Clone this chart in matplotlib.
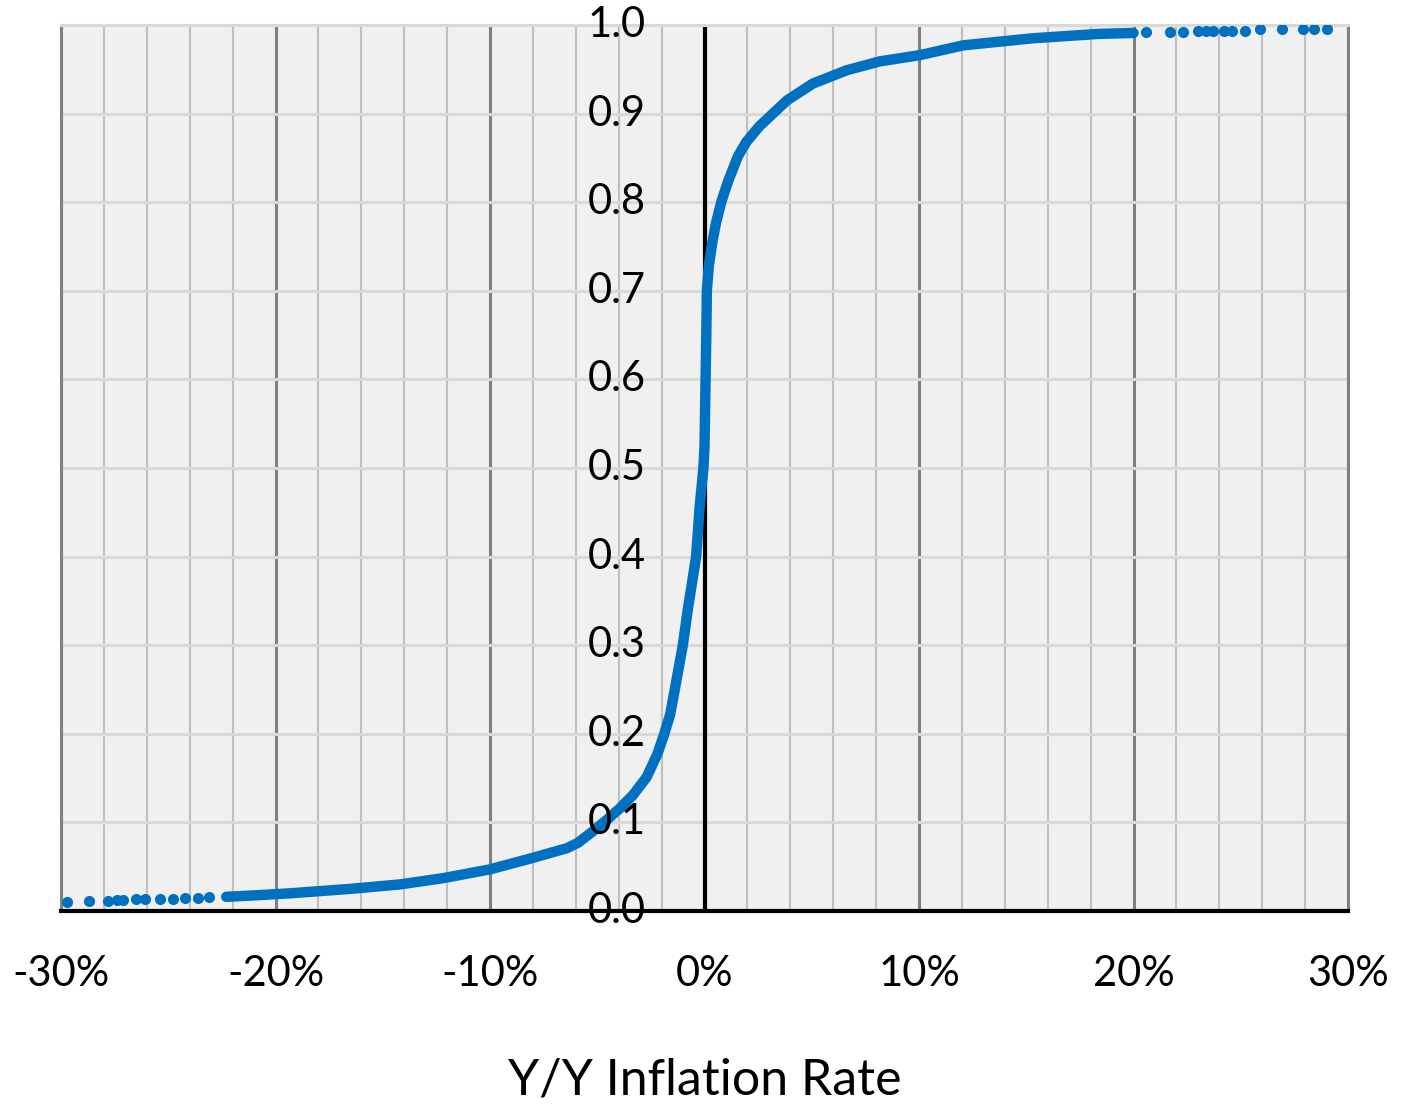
import numpy as np
import matplotlib.pyplot as plt

# CDF of year-over-year inflation rates (x in %, y = cumulative share)
# dense middle part of the curve
curve_x = [-22.3, -20.7, -19.3, -16.5, -14.2, -12.2, -10.0, -8.0, -6.4, -5.9,
           -5.2, -4.55, -3.94, -3.33, -2.7, -2.2, -1.9, -1.6, -1.4, -1.01,
           -0.78, -0.39, -0.23, -0.05, 0.0, 0.05, 0.08, 0.11, 0.2, 0.36,
           0.54, 0.78, 1.09, 1.56, 1.95, 2.57, 3.19, 3.85, 5.06, 6.64,
           8.18, 10.05, 12.05, 15.3, 18.4, 20.0]
curve_y = [0.016, 0.018, 0.020, 0.025, 0.030, 0.037, 0.047, 0.060, 0.071, 0.077,
           0.090, 0.103, 0.116, 0.131, 0.151, 0.177, 0.198, 0.222, 0.248, 0.300,
           0.340, 0.400, 0.455, 0.500, 0.524, 0.600, 0.644, 0.700, 0.728, 0.754,
           0.777, 0.800, 0.823, 0.852, 0.868, 0.886, 0.900, 0.915, 0.934, 0.949,
           0.959, 0.966, 0.977, 0.985, 0.990, 0.991]

# sparse points in the two tails
tail_x = [-29.7, -28.7, -27.8, -27.4, -27.1, -26.5, -26.1, -25.4, -24.8, -24.2,
          -23.6, -23.1,
          20.6, 21.7, 22.3, 23.0, 23.4, 23.7, 24.2, 24.6, 25.2, 25.9, 26.9,
          27.9, 28.4, 29.0]
tail_y = [0.0105, 0.011, 0.011, 0.012, 0.012, 0.013, 0.013, 0.014, 0.014, 0.015,
          0.015, 0.016,
          0.992, 0.992, 0.992, 0.993, 0.993, 0.993, 0.993, 0.993, 0.993, 0.995,
          0.995, 0.995, 0.995, 0.995]

x_ticks = [-30, -20, -10, 0, 10, 20, 30]
x_labels = ['-30%', '-20%', '-10%', '0%', '10%', '20%', '30%']
y_ticks = [0.0, 0.1, 0.2, 0.3, 0.4, 0.5, 0.6, 0.7, 0.8, 0.9, 1.0]

plt.rcParams['font.family'] = ['Lato', 'DejaVu Sans']

fig = plt.figure(figsize=(14.02, 11.06), dpi=100)
ax = fig.add_axes([61 / 1402, (1106 - 911) / 1106, 1287 / 1402, 886 / 1106])
ax.set_facecolor('#f0f0f0')
ax.set_xlim(-30, 30)
ax.set_ylim(0, 1)

ax.set_xticks(x_ticks)
ax.set_xticklabels(x_labels, fontsize=30)
ax.set_xticks(np.arange(-30, 31, 2), minor=True)
ax.set_yticks(y_ticks)
ax.set_yticklabels([])
ax.tick_params(axis='both', which='both', length=0)
ax.tick_params(axis='x', pad=32)

ax.grid(axis='x', which='major', color='#808080', linewidth=2.2, zorder=0)
ax.grid(axis='x', which='minor', color='#bfbfbf', linewidth=1.5, zorder=0)
ax.grid(axis='y', which='major', color='#d9d9d9', linewidth=2.2, zorder=0)
ax.set_axisbelow(True)

for side in ['left', 'right']:
    ax.spines[side].set_color('#808080')
    ax.spines[side].set_linewidth(2.2)
ax.spines['top'].set_color('#d9d9d9')
ax.spines['top'].set_linewidth(2.2)
ax.spines['bottom'].set_color('black')
ax.spines['bottom'].set_linewidth(3)

ax.axvline(0, color='black', linewidth=3, zorder=2)

ax.plot(curve_x, curve_y, color='#0070c0', linewidth=7.5,
        solid_capstyle='round', solid_joinstyle='round', zorder=3)
ax.plot(tail_x, tail_y, 'o', color='#0070c0', markersize=8,
        markeredgewidth=0, zorder=3)

# y labels sit just left of the zero line
for v in y_ticks:
    ax.text(-2.75, v, f'{v:.1f}', ha='right', va='center', fontsize=30,
            zorder=5, clip_on=False)

fig.text(0.503, 0.0235, 'Y/Y Inflation Rate', ha='center', va='center',
         fontsize=36)

fig.savefig('out.png', dpi=100)
